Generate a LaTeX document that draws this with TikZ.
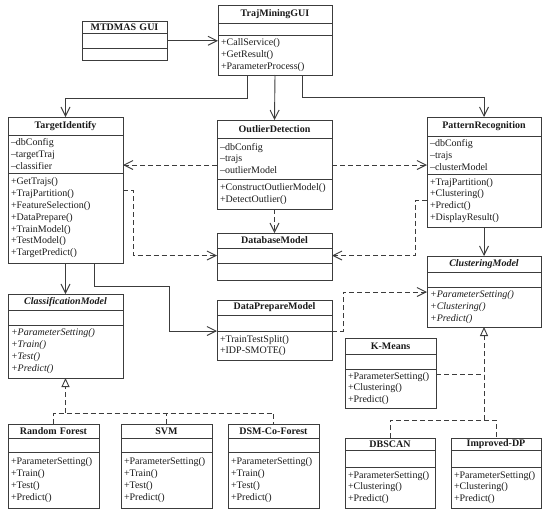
\documentclass[tikz,border=0pt]{standalone}
\usepackage{fontspec}
\setmainfont{Liberation Serif}
\usetikzlibrary{positioning,arrows.meta}
\definecolor{umlline}{HTML}{3C3C3C}
\definecolor{umltext}{HTML}{1A1A1A}
\tikzset{clsname/.style={draw=umlline,line width=0.9pt,outer sep=0pt,inner xsep=3pt,inner ysep=0pt,align=center,font=\bfseries,text=umltext},clsbody/.style={draw=umlline,line width=0.9pt,outer sep=0pt,inner xsep=3pt,inner ysep=0pt,align=left,text=umltext},assoc/.style={draw=umlline,line width=0.9pt,-{Straight Barb[length=9pt,width=9pt]}},dep/.style={assoc,dash pattern=on 5pt off 3pt},realline/.style={draw=umlline,line width=0.9pt,dash pattern=on 5pt off 3pt},real/.style={realline,-{Triangle[open,length=9pt,width=8pt]}}}
\begin{document}
\begin{tikzpicture}[x=1pt,y=-1pt,font=\fontsize{10}{11.8}\selectfont]
\useasboundingbox (0,0) rectangle (550,517);
\node[clsname,text width=79pt,minimum height=12.5pt,anchor=north west] (gui) at (82,21) {MTDMAS GUI};
\node[clsbody,text width=79pt,minimum height=14.5pt,below=0pt of gui] (gui-a) {};
\node[clsbody,text width=79pt,minimum height=12.5pt,below=0pt of gui-a] (gui-m) {};
\node[clsname,text width=108pt,minimum height=18pt,anchor=north west] (tmg) at (218,5) {TrajMiningGUI};
\node[clsbody,text width=108pt,minimum height=12pt,below=0pt of tmg] (tmg-a) {};
\node[clsbody,text width=108pt,minimum height=40pt,below=0pt of tmg-a] (tmg-m) {+CallService()\\+GetResult()\\+ParameterProcess()};
\node[clsname,text width=109pt,minimum height=18pt,anchor=north west] (ti) at (8,117) {TargetIdentify};
\node[clsbody,text width=109pt,minimum height=38pt,below=0pt of ti] (ti-a) {–dbConfig\\–targetTraj\\–classifier};
\node[clsbody,text width=109pt,minimum height=90pt,below=0pt of ti-a] (ti-m) {+GetTrajs()\\+TrajPartition()\\+FeatureSelection()\\+DataPrepare()\\+TrainModel()\\+TestModel()\\+TargetPredict()};
\node[clsname,text width=109pt,minimum height=18pt,anchor=north west] (od) at (217,120) {OutlierDetection};
\node[clsbody,text width=109pt,minimum height=41pt,below=0pt of od] (od-a) {–dbConfig\\–trajs\\–outlierModel};
\node[clsbody,text width=109pt,minimum height=30pt,below=0pt of od-a] (od-m) {+ConstructOutlierModel()\\+DetectOutlier()};
\node[clsname,text width=108pt,minimum height=19pt,anchor=north west] (pr) at (427,117) {PatternRecognition};
\node[clsbody,text width=108pt,minimum height=38pt,below=0pt of pr] (pr-a) {–dbConfig\\–trajs\\–clusterModel};
\node[clsbody,text width=108pt,minimum height=53pt,below=0pt of pr-a] (pr-m) {+TrajPartition()\\+Clustering()\\+Predict()\\+DisplayResult()};
\node[clsname,text width=109pt,minimum height=15pt,anchor=north west] (db) at (217,233) {DatabaseModel};
\node[clsbody,text width=109pt,minimum height=15pt,below=0pt of db] (db-a) {};
\node[clsbody,text width=109pt,minimum height=17pt,below=0pt of db-a] (db-m) {};
\node[clsname,text width=109pt,minimum height=16pt,anchor=north west,font=\bfseries\itshape] (cls) at (8,294) {ClassificationModel};
\node[clsbody,text width=109pt,minimum height=15pt,below=0pt of cls] (cls-a) {};
\node[clsbody,text width=109pt,minimum height=53pt,below=0pt of cls-a,font=\itshape] (cls-m) {+ParameterSetting()\\+Train()\\+Test()\\+Predict()};
\node[clsname,text width=109pt,minimum height=15pt,anchor=north west] (dpm) at (217,300) {DataPrepareModel};
\node[clsbody,text width=109pt,minimum height=16pt,below=0pt of dpm] (dpm-a) {};
\node[clsbody,text width=109pt,minimum height=29pt,below=0pt of dpm-a] (dpm-m) {+TrainTestSplit()\\+IDP-SMOTE()};
\node[clsname,text width=108pt,minimum height=16pt,anchor=north west,font=\bfseries\itshape] (clu) at (427,256) {ClusteringModel};
\node[clsbody,text width=108pt,minimum height=15pt,below=0pt of clu] (clu-a) {};
\node[clsbody,text width=108pt,minimum height=40pt,below=0pt of clu-a,font=\itshape] (clu-m) {+ParameterSetting()\\+Clustering()\\+Predict()};
\node[clsname,text width=85pt,minimum height=16pt,anchor=north west] (km) at (345,338) {K-Means};
\node[clsbody,text width=85pt,minimum height=15pt,below=0pt of km] (km-a) {};
\node[clsbody,text width=85pt,minimum height=39pt,below=0pt of km-a] (km-m) {+ParameterSetting()\\+Clustering()\\+Predict()};
\node[clsname,text width=85pt,minimum height=14pt,anchor=north west] (rf) at (8,424) {Random Forest};
\node[clsbody,text width=85pt,minimum height=14pt,below=0pt of rf] (rf-a) {};
\node[clsbody,text width=85pt,minimum height=56pt,below=0pt of rf-a] (rf-m) {+ParameterSetting()\\+Train()\\+Test()\\+Predict()};
\node[clsname,text width=85pt,minimum height=14pt,anchor=north west] (svm) at (121,424) {SVM};
\node[clsbody,text width=85pt,minimum height=14pt,below=0pt of svm] (svm-a) {};
\node[clsbody,text width=85pt,minimum height=56pt,below=0pt of svm-a] (svm-m) {+ParameterSetting()\\+Train()\\+Test()\\+Predict()};
\node[clsname,text width=85pt,minimum height=14pt,anchor=north west] (dsm) at (228,424) {DSM-Co-Forest};
\node[clsbody,text width=85pt,minimum height=14pt,below=0pt of dsm] (dsm-a) {};
\node[clsbody,text width=85pt,minimum height=56pt,below=0pt of dsm-a] (dsm-m) {+ParameterSetting()\\+Train()\\+Test()\\+Predict()};
\node[clsname,text width=84pt,minimum height=12pt,anchor=north west] (dbs) at (345,438) {DBSCAN};
\node[clsbody,text width=84pt,minimum height=17pt,below=0pt of dbs] (dbs-a) {};
\node[clsbody,text width=84pt,minimum height=41pt,below=0pt of dbs-a] (dbs-m) {+ParameterSetting()\\+Clustering()\\+Predict()};
\node[clsname,text width=84pt,minimum height=12pt,anchor=north west] (idp) at (451,438) {Improved-DP};
\node[clsbody,text width=84pt,minimum height=17pt,below=0pt of idp] (idp-a) {};
\node[clsbody,text width=84pt,minimum height=41pt,below=0pt of idp-a] (idp-m) {+ParameterSetting()\\+Clustering()\\+Predict()};
\draw[assoc] (gui-a.east) -- (gui-a.east -| tmg-m.west);
\draw[assoc] ([xshift=-28pt]tmg-m.south) -- ++(0,23) -| (ti.north);
\draw[assoc] (tmg-m.south) -- (od.north);
\draw[assoc] ([xshift=27pt]tmg-m.south) -- ++(0,22) -| (pr.north);
\draw[dep] ([yshift=-6.5pt]od-a.west) -- ([yshift=-6.5pt]od-a.west -| ti-a.east);
\draw[dep] ([yshift=-6.5pt]od-a.east) -- ([yshift=-6.5pt]od-a.east -| pr-a.west);
\draw[dep] (od-m.south) -- (db.north);
\draw[dep] ([yshift=28pt]ti-m.east) -- ++(10,0) |- (db-a.west);
\draw[dep] (pr-m.west) -- ++(-12,0) |- (db-a.east);
\draw[assoc] (ti-m.south) -- (cls.north);
\draw[assoc] ([xshift=28.5pt]ti-m.south) -- ++(0,23) -- ++(75,0) |- (dpm-m.north west);
\draw[assoc] (pr-m.south) -- (clu.north);
\draw[dep] (dpm-m.north east) -- ++(11,0) |- ([yshift=-5pt]clu-m.north west);
\coordinate (clsj) at ([yshift=11pt]cls-m.south |- rf.north);
\draw[real] (clsj) -- (cls-m.south);
\draw[realline] (rf.north) -- ++(0,-11) -| (dsm.north);
\draw[realline] (svm.north) -- (svm.north |- clsj);
\coordinate (cluj) at ([yshift=18pt]clu-m.south |- dbs.north);
\draw[real] (cluj) -- (clu-m.south);
\draw[realline] (dbs.north) -- ++(0,-18) -| (idp.north);
\draw[realline] ([yshift=-5pt]km-m.north east) -- ([yshift=-5pt]km-m.north east -| cluj);
\end{tikzpicture}
\end{document}
